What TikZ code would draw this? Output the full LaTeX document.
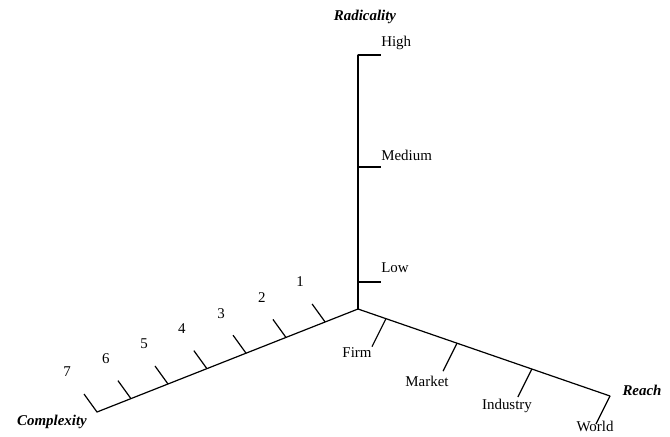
\documentclass[tikz,border=0pt]{standalone}
\usepackage{fontspec}
\setmainfont{Liberation Serif}
\usetikzlibrary{calc,positioning}

\begin{document}
\begin{tikzpicture}[
    x=0.75pt, y=-0.75pt,
    axis/.style={line width=0.9pt, line cap=round},
    tick/.style={line width=0.9pt},
    lbl/.style={font=\fontsize{11.2}{13}\selectfont, inner sep=0pt},
    title/.style={font=\fontsize{11.2}{13}\selectfont\bfseries\itshape, inner sep=0pt}
  ]
  \useasboundingbox (0,0) rectangle (670,436);

  %% ---- axes ----
  \coordinate (O) at (358,309);
  \coordinate (radtop) at (358,55);
  \coordinate (cxend) at (97,412);
  \coordinate (rchend) at (610,396);

  \draw[axis] (O) -- (radtop);
  \draw[axis] (O) -- (cxend);
  \draw[axis] (O) -- (rchend);

  \node[title] (radtitle) at (365,17) {Radicality};
  \node[title] (cxtitle) at (52,422) {Complexity};
  \node[title] (rchtitle) at (642,390) {Reach};

  %% ---- Radicality ticks ----
  \foreach \name/\y/\ly in {High/55/43, Medium/167/155, Low/282/268}{
    \coordinate (rad\name) at (358,\y);
    \draw[tick] (rad\name) -- ++(23,0);
    \node[lbl, anchor=west] (radlbl\name) at (381,\ly) {\name};
  }

  %% ---- Complexity ticks ----
  \foreach \k/\t/\dx in {1/0.126/-25, 2/0.276/-24, 3/0.429/-25, 4/0.579/-25,
                         5/0.728/-24, 6/0.870/-25, 7/1.0/-30}{
    \coordinate (cx\k) at ($(O)!\t!(cxend)$);
    \draw[tick] (cx\k) -- ++(-13,-18);
    \node[lbl] (cxlbl\k) at ($(cx\k)+(\dx,-40)$) {\k};
  }

  %% ---- Reach ticks ----
  \foreach \name/\t/\lx/\ly in {Firm/0.111/357/353, Market/0.393/427/381,
                                Industry/0.690/507/406, World/1.0/595/426}{
    \coordinate (rch\name) at ($(O)!\t!(rchend)$);
    \draw[tick] (rch\name) -- ++(-14,28);
    \node[lbl] (rchlbl\name) at (\lx,\ly) {\name};
  }

\end{tikzpicture}
\end{document}
